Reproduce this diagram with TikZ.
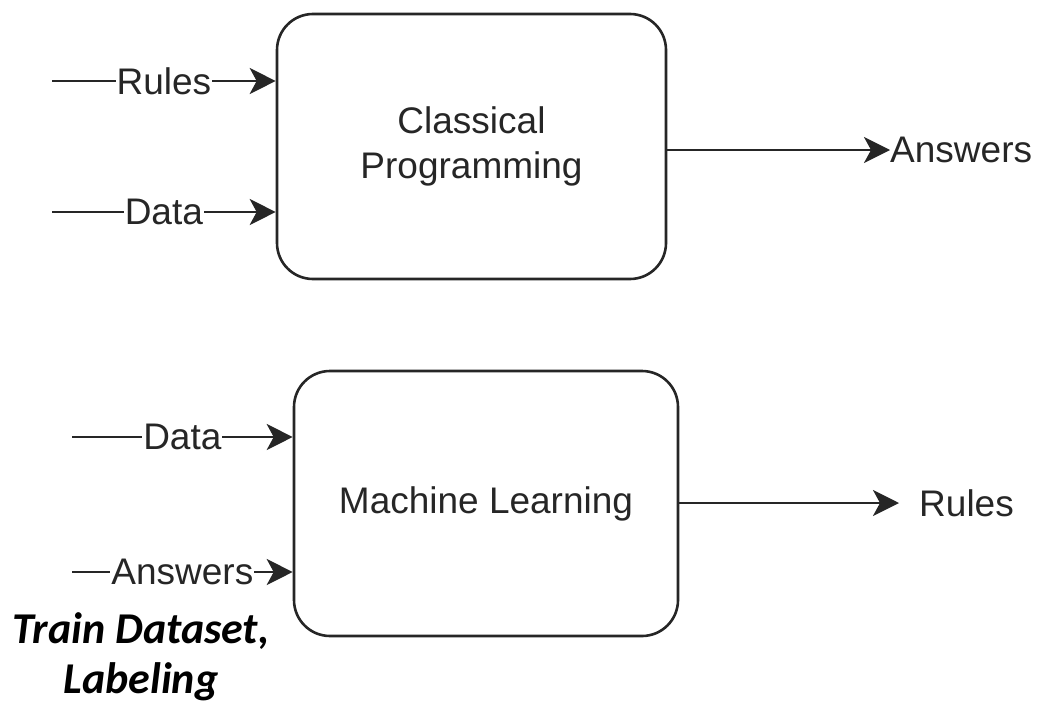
\documentclass[tikz,border=0pt]{standalone}
\usepackage{fontspec}
\setmainfont{Liberation Sans}
\newfontfamily\carl{Carlito}
\usetikzlibrary{arrows.meta}
\begin{document}
\begin{tikzpicture}[x=1pt,y=-1pt,
  box/.style={draw=black!85, line width=2.6pt, rounded corners=36pt, align=center,
    text=black!85, font=\fontsize{37}{45}\selectfont},
  conn/.style={draw=black!85, line width=2.6pt, -{Stealth[length=26pt,width=26pt,inset=7pt]}},
  lbl/.style={fill=white, inner sep=1pt, text=black!85, font=\fontsize{37}{44}\selectfont},
  outl/.style={inner sep=0pt, anchor=west, text=black!85, font=\fontsize{37}{44}\selectfont}]
\useasboundingbox (0,0) rectangle (1040,704);
% boxes
\node[box, minimum width=389pt, minimum height=265pt] (c1) at (471.5,146.5) {Classical\\Programming};
\node[box, minimum width=384pt, minimum height=265pt] (m1) at (486,503.5) {Machine Learning};
% inputs top
\coordinate (r1) at (52,81);
\coordinate (d1) at (52,212);
\draw[conn] (r1) -- node[lbl] (lr1) {Rules} (r1 -| c1.west);
\draw[conn] (d1) -- node[lbl] (ld1) {Data} (d1 -| c1.west);
% output top
\node[outl] (ans) at (890,150) {Answers};
\draw[conn] (c1.east |- ans.west) -- (ans.west);
% inputs bottom
\coordinate (d2) at (72,437);
\coordinate (a2) at (72,572);
\draw[conn] (d2) -- node[lbl] (ld2) {Data} (d2 -| m1.west);
\draw[conn] (a2) -- node[lbl] (la2) {Answers} (a2 -| m1.west);
% output bottom
\node[outl] (rul) at (919,503) {Rules};
\coordinate (re) at (899,503);
\draw[conn] (m1.east |- re) -- (re);
% annotation
\node[align=center, font=\carl\bfseries\itshape\fontsize{44}{50}\selectfont] (td) at (141,657) {Train Dataset,\\Labeling};
\end{tikzpicture}
\end{document}
